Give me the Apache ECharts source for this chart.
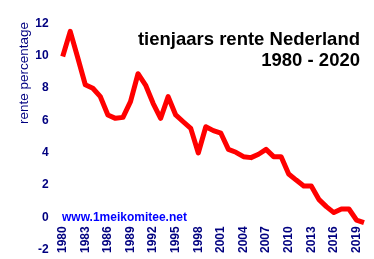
<!DOCTYPE html>
<html>
<head>
<meta charset="utf-8">
<script src="https://cdn.jsdelivr.net/npm/echarts@6/dist/echarts.min.js"></script>
<style>
html,body{margin:0;padding:0;background:#fff;}
#c{width:374px;height:259px;}
</style>
</head>
<body>
<div id="c"></div>
<script>
var years = [];
for (var y = 1980; y <= 2020; y++) years.push(String(y));
var rente = [9.95, 11.5, 9.87, 8.2, 7.98, 7.46, 6.33, 6.12, 6.18, 7.15,
             8.88, 8.18, 7.05, 6.12, 7.46, 6.33, 5.91, 5.5, 3.98, 5.6,
             5.36, 5.2, 4.2, 4.02, 3.75, 3.69, 3.9, 4.2, 3.75, 3.75,
             2.68, 2.3, 1.94, 1.94, 1.11, 0.66, 0.29, 0.51, 0.51, -0.17, -0.33];
var titleLines = ['tienjaars rente Nederland', '1980 - 2020'];
var yAxisName = 'rente percentage';
var siteText = 'www.1meikomitee.net';

var chart = echarts.init(document.getElementById('c'), null, {renderer: 'canvas'});
var titleFont = 'bold 18.5px "Liberation Sans", Arial, sans-serif';
chart.setOption({
  animation: false,
  backgroundColor: '#ffffff',
  grid: {left: 62.7, right: 10, top: 23.3, bottom: 9.4, containLabel: false, outerBoundsMode: 'none'},
  xAxis: {
    type: 'category',
    data: years,
    boundaryGap: false,
    offset: -32.3,
    axisLine: {show: false, onZero: false},
    axisTick: {show: false},
    splitLine: {show: false},
    axisLabel: {
      interval: 2, rotate: 90, margin: 9, hideOverlap: false,
      fontFamily: 'Liberation Sans, Arial, sans-serif', fontWeight: 'bold', fontSize: 12, color: '#000080'
    }
  },
  yAxis: {
    type: 'value',
    min: -2, max: 12, interval: 2,
    axisLine: {show: false},
    axisTick: {show: false},
    splitLine: {show: false},
    axisLabel: {
      margin: 14,
      fontFamily: 'Liberation Sans, Arial, sans-serif', fontWeight: 'bold', fontSize: 12, color: '#000080'
    }
  },
  graphic: [
    {
      type: 'text', x: 360, y: 30.7,
      style: {text: titleLines[0], fill: '#000000', font: titleFont, align: 'right', verticalAlign: 'alphabetic'}
    },
    {
      type: 'text', x: 360, y: 51.7,
      style: {text: titleLines[1], fill: '#000000', font: titleFont, align: 'right', verticalAlign: 'alphabetic'}
    },
    {
      type: 'text', x: 24, y: 73, rotation: Math.PI / 2,
      style: {text: yAxisName, fill: '#000080', font: '13.5px "Liberation Sans", Arial, sans-serif', align: 'center', verticalAlign: 'middle'}
    },
    {
      type: 'text', x: 62, y: 211.7,
      style: {text: siteText, fill: '#0000ff', font: 'bold 12px "Liberation Sans", Arial, sans-serif', verticalAlign: 'alphabetic'}
    }
  ],
  series: [{
    type: 'line',
    data: rente,
    symbol: 'none',
    lineStyle: {color: '#ff0000', width: 5, join: 'round'},
    z: 3
  }]
});
</script>
</body>
</html>
